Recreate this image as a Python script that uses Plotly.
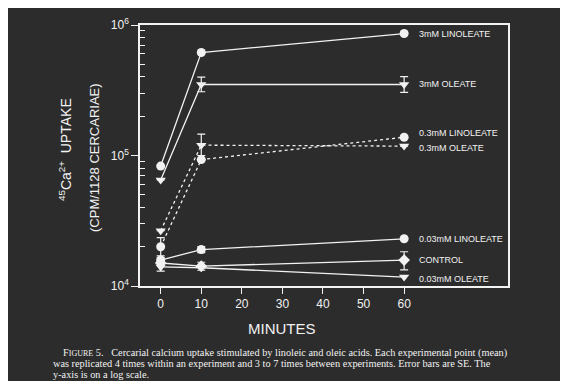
import plotly.graph_objects as go
import math

# ---- data ----
minutes = [0, 10, 60]

lino_3mM = [83000, 615000, 860000]
oleate_3mM = [65000, 350000, 350000]
oleate_3mM_err_up = [0, 48000, 52000]
oleate_3mM_err_dn = [0, 42000, 45000]

lino_03mM = [20000, 93000, 138000]
lino_03mM_err = [3500, 0, 0]
oleate_03mM = [26500, 120000, 118000]
oleate_03mM_err_up = [0, 26000, 0]
oleate_03mM_err_dn = [0, 20000, 0]

lino_003mM = [15800, 19000, 23000]
lino_003mM_err = [0, 1000, 0]
control = [15000, 14200, 15800]
control_err = [2000, 1000, 2500]
oleate_003mM = [14000, 13800, 11700]

series_names = ["3mM LINOLEATE", "3mM OLEATE", "0.3mM LINOLEATE", "0.3mM OLEATE",
                "0.03mM LINOLEATE", "CONTROL", "0.03mM OLEATE"]

ytick_vals = [1e4, 1e5, 1e6]
ytick_text = ["10<sup>4</sup>", "10<sup>5</sup>", "10<sup>6</sup>"]
xtick_vals = [0, 10, 20, 30, 40, 50, 60]

caption_lines = [
    "F<span style='font-size:8px'>IGURE</span> 5.   Cercarial calcium uptake stimulated by linoleic and oleic acids. Each experimental point (mean)",
    "was replicated 4 times within an experiment and 3 to 7 times between experiments. Error bars are SE. The",
    "y-axis is on a log scale.",
]

# ---- style ----
BG = "#2c2c2c"
FG = "#f2f2f2"
SANS = "Liberation Sans, Arial, sans-serif"
SERIF = "Liberation Serif, Times New Roman, serif"

# page offset (body margin) is 8px; plot area in page pixels: x 140..508, y 25..286
OFF = 8
W, H = 568 - OFF, 381 - OFF
L, R, T, B = 140 - OFF, W - (508 - OFF), 25 - OFF, H - (286 - OFF)
PW, PH = 368, 261

def px_to_paper_x(px):
    return (px - 140) / PW

def px_to_paper_y(py):
    return (286 - py) / PH

fig = go.Figure()

def add(y, symbol, dash="solid", err_up=None, err_dn=None, name=""):
    ey = None
    if err_up is not None:
        ey = dict(type="data", symmetric=False, array=err_up,
                  arrayminus=err_dn if err_dn is not None else err_up,
                  color=FG, thickness=1.2, width=4)
    fig.add_trace(go.Scatter(
        x=minutes, y=y, mode="lines+markers", name=name,
        line=dict(color=FG, width=1.3, dash=dash),
        marker=dict(symbol=symbol, size=9, color=FG, line=dict(width=0)),
        error_y=ey, showlegend=False))

add(lino_3mM, "circle", name=series_names[0])
add(oleate_3mM, "triangle-down", err_up=oleate_3mM_err_up, err_dn=oleate_3mM_err_dn, name=series_names[1])
add(lino_03mM, "circle", dash="dot", err_up=lino_03mM_err, name=series_names[2])
add(oleate_03mM, "triangle-down", dash="dot", err_up=oleate_03mM_err_up, err_dn=oleate_03mM_err_dn, name=series_names[3])
add(lino_003mM, "circle", err_up=lino_003mM_err, name=series_names[4])
add(control, "diamond", err_up=control_err, name=series_names[5])
add(oleate_003mM, "triangle-down", name=series_names[6])

# right-side series labels anchored to each series' last point
last_vals = [lino_3mM[-1], oleate_3mM[-1], lino_03mM[-1], oleate_03mM[-1],
             lino_003mM[-1], control[-1], oleate_003mM[-1]]
nudges = [0, 1, 4, -2, 0, 0, -2]
for name, v, dy in zip(series_names, last_vals, nudges):
    fig.add_annotation(x=minutes[-1], y=math.log10(v), xref="x", yref="y",
                       text=name, showarrow=False, xanchor="left", yanchor="middle",
                       xshift=13, yshift=dy, font=dict(family=SANS, size=9, color=FG))

# axis titles
fig.add_annotation(x=px_to_paper_x(65), y=px_to_paper_y(150), xref="paper", yref="paper",
                   showarrow=False, xanchor="center", yanchor="middle",
                   text="<sup>45</sup>Ca<sup>2+</sup>  UPTAKE", textangle=-90,
                   font=dict(family=SANS, size=14, color=FG))
fig.add_annotation(x=px_to_paper_x(94), y=px_to_paper_y(158), xref="paper", yref="paper",
                   showarrow=False, xanchor="center", yanchor="middle",
                   text="(CPM/1128 CERCARIAE)", textangle=-90,
                   font=dict(family=SANS, size=13, color=FG))
fig.add_annotation(x=30, y=px_to_paper_y(328), xref="x", yref="paper", showarrow=False,
                   xanchor="center", yanchor="middle",
                   text="MINUTES", font=dict(family=SANS, size=15, color=FG))

# caption
cap_y = [352.5, 363.5, 374]
cap_x = [61, 51, 51]
for txt, py, pxx in zip(caption_lines, cap_y, cap_x):
    fig.add_annotation(x=px_to_paper_x(pxx), y=px_to_paper_y(py), xref="paper", yref="paper",
                       showarrow=False, xanchor="left", yanchor="middle", text=txt,
                       font=dict(family=SERIF, size=10.3, color=FG))

fig.update_layout(
    width=W, height=H,
    margin=dict(l=L, r=R, t=T, b=B),
    paper_bgcolor=BG, plot_bgcolor=BG,
    font=dict(family=SANS, color=FG),
)
fig.update_xaxes(range=[-5.1, 85.6], tickvals=xtick_vals, ticks="outside", ticklen=6,
                 tickwidth=1.2, tickcolor=FG, showline=True, linecolor=FG, linewidth=1.5,
                 mirror=True, showgrid=False, zeroline=False, automargin=False,
                 tickfont=dict(family=SANS, size=12, color=FG))
minor_vals = [m * 10 ** e for e in (4, 5) for m in range(2, 10)]
fig.update_yaxes(type="log", range=[4, 6], tickvals=ytick_vals, ticktext=ytick_text,
                 ticks="outside", ticklen=7, tickwidth=1.2, tickcolor=FG,
                 minor=dict(tickvals=minor_vals, ticks="inside", ticklen=5,
                            tickcolor=FG, tickwidth=1, showgrid=False),
                 showline=True, linecolor=FG, linewidth=1.5, mirror=True,
                 showgrid=False, zeroline=False, automargin=False,
                 tickfont=dict(family=SANS, size=12, color=FG))

fig.write_html("out.html")
